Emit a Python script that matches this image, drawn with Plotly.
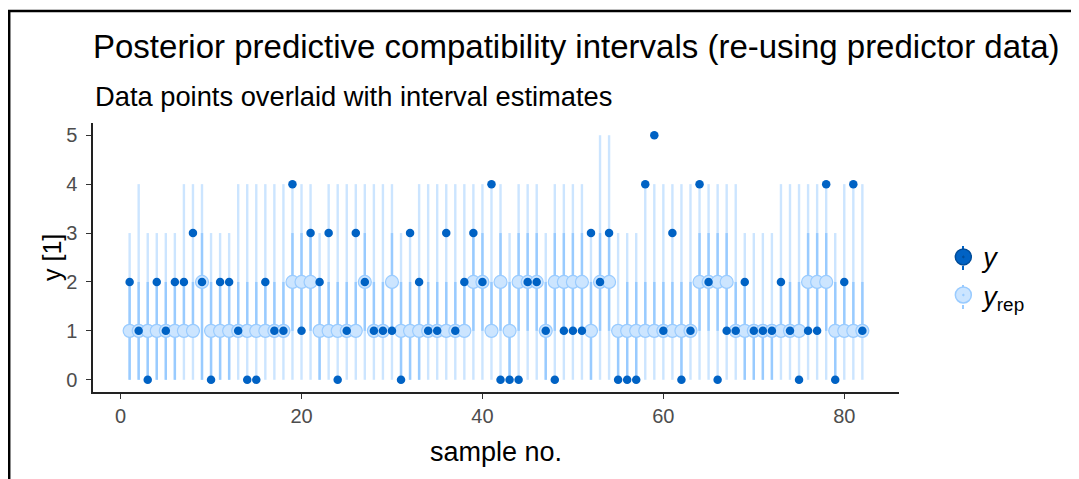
import plotly.graph_objects as go

# ---- data ----
sample = list(range(1, 83))

y_obs = [2, 1, 0, 2, 1, 2, 2, 3, 2, 0, 2, 2, 1, 0, 0, 2, 1, 1, 4, 1,
         3, 2, 3, 0, 1, 3, 2, 1, 1, 1, 0, 3, 2, 1, 1, 3, 1, 2, 3, 2, 4,
         0, 0, 0, 2, 2, 1, 0, 1, 1, 1, 3, 2, 3, 0, 0, 0, 4, 5,
         1, 3, 0, 1, 4, 2, 0, 1, 1, 2, 1, 1, 1, 2, 1, 0, 1, 1, 4, 0, 2, 4, 1]

yrep_median = [1, 1, 1, 1, 1, 1, 1, 1, 2, 1, 1, 1,
               1, 1, 1, 1, 1, 1, 2, 2, 2, 1, 1, 1,
               1, 1, 2, 1, 1, 2, 1, 1, 1, 1, 1, 1,
               1, 1, 2, 2, 1, 2, 1, 2, 2, 2, 1, 2,
               2, 2, 2, 1, 2, 2, 1, 1, 1, 1, 1, 1,
               1, 1, 1, 2, 2, 2, 2, 1, 1, 1, 1, 1,
               1, 1, 1, 2, 2, 2, 1, 1, 1, 1]

inner_lo = [0, 0, 0, 0, 0, 0, 1, 1, 0, 0, 0, 0,
            1, 1, 1, 1, 1, 1, 1, 1, 1, 0, 1, 1,
            1, 1, 1, 1, 1, 1, 0, 0, 0, 1, 1, 1,
            1, 1, 1, 1, 1, 1, 0, 1, 1, 1, 0, 1,
            1, 1, 1, 0, 1, 1, 0, 0, 0, 1, 1, 1,
            1, 0, 1, 1, 1, 1, 1, 1, 0, 0, 0, 0,
            1, 1, 1, 1, 1, 1, 0, 1, 1, 1]

inner_hi = [2, 2, 2, 2, 2, 2, 2, 2, 3, 2, 2, 2,
            2, 2, 2, 2, 2, 2, 3, 3, 3, 2, 2, 2,
            2, 2, 3, 2, 2, 3, 2, 2, 2, 2, 2, 2,
            2, 2, 3, 3, 2, 3, 2, 3, 3, 3, 2, 3,
            3, 3, 3, 2, 3, 3, 1, 2, 2, 2, 2, 2,
            2, 2, 2, 3, 3, 3, 3, 2, 2, 1, 1, 1,
            2, 2, 2, 3, 3, 3, 2, 2, 2, 2]

outer_lo = [0] * 82

outer_hi = [3, 4, 3, 3, 3, 3, 4, 4, 4, 3, 3, 3,
            4, 4, 4, 4, 4, 4, 4, 4, 4, 3, 4, 4,
            4, 4, 4, 4, 4, 4, 3, 3, 4, 4, 4, 4,
            4, 4, 4, 4, 4, 4, 3, 4, 4, 4, 3, 4,
            4, 4, 4, 3, 5, 5, 3, 3, 3, 4, 4, 4,
            4, 4, 4, 4, 4, 4, 4, 4, 3, 3, 3, 3,
            4, 4, 4, 4, 4, 4, 3, 4, 4, 4]

x_ticks = [0, 20, 40, 60, 80]
y_ticks = [0, 1, 2, 3, 4, 5]

TITLE = "Posterior predictive compatibility intervals (re-using predictor data)"
SUBTITLE = "Data points overlaid with interval estimates"
X_TITLE = "sample no."
Y_TITLE = "y [1]"

# ---- colours (bayesplot 'brightblue') ----
LIGHT = "#cce5ff"
LIGHT_HL = "#99cbff"
DARK = "#0062c4"
DARK_HL = "#004c99"
FONT = "Liberation Sans, Arial, sans-serif"

# figure is drawn 8px in from the page corner (body margin), so size is reduced by 8
W, H = 1071, 471
ML, MR, MT, MB = 85, 180, 115, 87
PW, PH = W - ML - MR, H - MT - MB


def px_x(ref_x):
    return (ref_x - 93) / PW


def px_y(ref_y):
    return (392 - ref_y) / PH


def segments(xs, lo, hi):
    xx, yy = [], []
    for x, a, b in zip(xs, lo, hi):
        xx += [x, x, None]
        yy += [a, b, None]
    return xx, yy


fig = go.Figure()

ox, oy = segments(sample, outer_lo, outer_hi)
fig.add_trace(go.Scatter(x=ox, y=oy, mode="lines", line=dict(color=LIGHT, width=2.4),
                         showlegend=False, hoverinfo="skip"))
ix, iy = segments(sample, inner_lo, inner_hi)
fig.add_trace(go.Scatter(x=ix, y=iy, mode="lines", line=dict(color=LIGHT_HL, width=2.4),
                         showlegend=False, hoverinfo="skip"))

fig.add_trace(go.Scatter(x=sample, y=yrep_median, mode="markers", showlegend=False,
                         marker=dict(size=13, color=LIGHT, line=dict(color=LIGHT_HL, width=1.2))))
fig.add_trace(go.Scatter(x=sample, y=y_obs, mode="markers", showlegend=False,
                         marker=dict(size=8.5, color=DARK)))

# legend entries
fig.add_trace(go.Scatter(x=[None], y=[None], mode="markers", name="<i>y</i>",
                         marker=dict(size=16, color=DARK, symbol="circle-dot",
                                     line=dict(color=DARK_HL, width=1.5)),
                         legendrank=1))
fig.add_trace(go.Scatter(x=[None], y=[None], mode="markers", name="<i>y</i><sub>rep</sub>",
                         marker=dict(size=16, color=LIGHT, symbol="circle-dot",
                                     line=dict(color=LIGHT_HL, width=1.5)),
                         legendrank=2))

leg_x = px_x(963)
stub_shapes = []
for cy, col in [(258, DARK), (297, LIGHT_HL)]:
    for d0, d1 in [(-12, -8), (8, 12)]:
        stub_shapes.append(dict(type="line", xref="paper", yref="paper",
                                x0=leg_x, x1=leg_x, y0=px_y(cy + d0), y1=px_y(cy + d1),
                                line=dict(color=col, width=2)))

fig.update_layout(
    width=W, height=H,
    margin=dict(l=ML, r=MR, t=MT, b=MB, autoexpand=False),
    paper_bgcolor="white", plot_bgcolor="white",
    font=dict(family=FONT, color="black"),
    title=dict(text=TITLE, x=85 / W, xanchor="left", xref="container",
               y=1 - 38 / H, yanchor="middle", yref="container",
               font=dict(size=33, color="black", family=FONT)),
    legend=dict(x=1.055, xanchor="left", y=0.43, yanchor="middle",
                font=dict(size=27, color="black", family=FONT),
                itemsizing="trace", tracegroupgap=10, bgcolor="rgba(0,0,0,0)"),
    xaxis=dict(range=[-3.05, 86.05], tickvals=x_ticks, ticks="outside", ticklen=5,
               tickcolor="#333333", showgrid=False, zeroline=False, automargin=False,
               showline=True, linecolor="#222222", linewidth=1.5,
               tickfont=dict(size=20, color="#4d4d4d", family=FONT),
               title=dict(text=X_TITLE, font=dict(size=27, color="black", family=FONT),
                          standoff=16)),
    yaxis=dict(range=[-0.25, 5.25], tickvals=y_ticks, ticks="outside", ticklen=5,
               tickcolor="#333333", showgrid=False, zeroline=False, automargin=False,
               showline=True, linecolor="#222222", linewidth=1.5, ticklabelstandoff=5,
               tickfont=dict(size=20, color="#4d4d4d", family=FONT)),
    annotations=[
        dict(text=SUBTITLE, x=0, xref="paper", xanchor="left",
             y=px_y(96), yref="paper", yanchor="middle",
             showarrow=False, font=dict(size=27.3, color="black", family=FONT)),
        dict(text=Y_TITLE, x=px_x(52), xref="paper", xanchor="center",
             y=px_y(258), yref="paper", yanchor="middle", textangle=-90,
             showarrow=False, font=dict(size=25, color="black", family=FONT)),
    ],
    shapes=[dict(type="rect", xref="paper", yref="paper",
                 x0=(1.2 - ML) / PW, x1=1.4, y0=-0.6, y1=(PH + MT - 3) / PH,
                 line=dict(color="black", width=2.5), fillcolor="rgba(0,0,0,0)",
                 layer="above")] + stub_shapes,
)

fig.write_html("out.html")
